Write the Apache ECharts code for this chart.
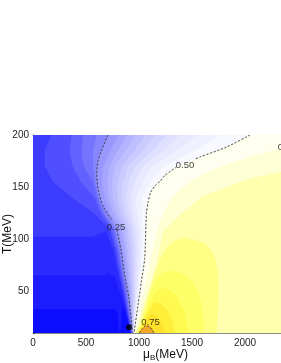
<!DOCTYPE html>
<html><head><meta charset="utf-8">
<script src="https://cdn.jsdelivr.net/npm/echarts@6/dist/echarts.min.js"></script>
<style>html,body{margin:0;padding:0;background:#fff}#c{width:281px;height:363px}</style>
</head><body><div id="c"></div>
<script>
// ---------------- DATA ----------------
const T_MIN = 10, T_MAX = 200, MU_MAX = 2500;
const xTickInterval = 500, yTickInterval = 50;

// rows of T at which the nearly-vertical contour levels are sampled
const tRows = [200, 185, 170, 155, 140, 125, 110, 90, 70, 50, 30, 10];
// mu_B values of level curves (blue side, below 0.25)
const muLev150 = [176, 112, 113, 194, 370, 580, 720, 780, 815, 855, 893, 930];
const muLev175 = [365, 349, 375, 454, 580, 640, 735, 790, 825, 862, 898, 932];
const muLev200 = [475, 459, 480, 570, 605, 660, 755, 806, 840, 877, 908, 937];
const muLev225 = [601, 569, 570, 588, 620, 675, 770, 818, 850, 885, 914, 940];
// levels between 0.25 and 0.50
const muLev275 = [808, 730, 667, 655, 676, 726, 813, 853, 878, 905, 926, 944];
const muLev300 = [887, 802, 723, 703, 716, 762, 841, 876, 896, 917, 932, 945];
const muLev325 = [967, 875, 779, 750, 755, 797, 868, 898, 914, 929, 939, 946];
const muLev350 = [1060, 956, 840, 801, 796, 833, 896, 921, 932, 941, 945, 947];
const muLev375 = [1154, 1038, 901, 851, 837, 869, 924, 944, 950, 952, 951, 948];
const muLev400 = [1264, 1131, 969, 905, 880, 906, 952, 967, 968, 964, 957, 949];
const muLev425 = [1387, 1232, 1041, 962, 924, 944, 980, 990, 986, 976, 963, 950];
const muLev450 = [1547, 1359, 1128, 1028, 973, 983, 1007, 1012, 1004, 988, 970, 951];
const muLev475 = [1764, 1525, 1236, 1105, 1028, 1025, 1035, 1035, 1022, 1000, 976, 952];

// low-T, nearly horizontal levels [mu_B, T]
const lev075 = [[0,33],[700,33],[785,33],[800,29],[810,15],[818,12],[828,15],[836,28],[848,36],[870,30],[900,20],[922,10]];
const lev100 = [[0,65.6],[600,65.6],[690,66],[705,68.5],[720,66],[774,65],[810,52],[850,42],[880,32],[905,20],[925,10]];
const lev125 = [[0,102.4],[500,102.4],[580,103],[640,106],[690,108],[760,90],[800,70],[843,52],[880,35],[905,23],[928,10]];

// dashed contours [mu_B, T]
const contour025 = [[710,200],[648,185.6],[616,176],[601,163.2],[616,147.2],[663,131.2],[745,118.4],
                    [792,108.8],[830,89.6],[865,65.6],[903,44.8],[934,16],[943,10]];
const contour050 = [[2047,200],[1827,188.5],[1575,178.9],[1520,176.5],
                    [1356,169.3],[1248,161.6],[1198,155.5],[1154,151.5],[1110,145],[1085,135],[1070,125],
                    [1065,113],[1054,81.7],[1022,59],[991,36.9],[953,10]];
const gap025 = 7, gap050 = 4; // label breaks (index where the second piece starts)

// yellow side levels
const lev525 = [[962,10],[1000,25],[1035,42],[1070,60],[1110,80],[1150,100],[1167,107],[1200,118],[1300,138],
                [1418,150],[1538,158],[1733,168],[2047,179],[2340,187],[2600,192]];
const lev550 = [[968,10],[1020,25],[1065,42],[1110,56],[1160,75],[1200,92],[1229,107],[1300,115],[1400,124],
                [1481,131],[1600,141],[1795,148.5],[2047,158],[2340,164.5],[2600,168]];
const lev600 = [[975,10],[1005,16],[1030,25],[1075,42],[1148,66],[1210,83],[1274,93],[1350,99],[1431,101],
                [1530,99],[1620,96],[1680,89],[1714,82],[1740,70],[1748,55],[1745,40],[1737,25],[1729,10]];
const lev625 = [[985,10],[1015,16],[1045,25],[1085,40],[1120,52],[1170,63],[1242,69],[1330,69],[1431,66],
                [1510,58],[1560,48],[1595,35],[1610,20],[1612,10]];
const lev650 = [[990,10],[1025,17],[1060,27],[1100,38],[1150,48],[1211,53],[1290,51],[1360,44],[1420,32],[1450,20],[1460,10]];
const lev675 = [[995,10],[1030,17],[1070,26],[1110,34],[1148,39],[1210,38],[1270,31],[1315,21],[1336,10]];
const lev700 = [[1000,10],[1040,17],[1080,24],[1116,28],[1170,26],[1215,19],[1242,10]];
const lev750 = [[1003,10],[1030,14],[1065,17],[1100,16],[1125,13],[1140,10]];

const criticalPoint = [[905, 15.5]];
const contourLabels = [
  {text: '0.25', mu: 783, T: 111.7},
  {text: '0.50', mu: 1434, T: 171.2},
  {text: '0.75', mu: 1109, T: 20},
  {text: '0.55', mu: 2395, T: 188}
];

// ---------------- STYLE ----------------
const bandColors = [
  '#0c0cff', '#1c1cff', '#2b2bff', '#3c3cff', '#4f4fff', '#6262ff', '#7474ff', '#8686ff',
  '#9898ff', '#a6a6ff', '#b3b3ff', '#bfbfff', '#cacaff', '#d5d5ff', '#dfdfff', '#e8e8ff', '#f0f0ff', '#f8f8ff',
  '#fffff0', '#ffffd6', '#ffffae', '#ffff84', '#ffff68', '#fffa50', '#ffee3a', '#ffe02a', '#f3a828'
];
const FONT = "'Liberation Sans', Arial, Helvetica, sans-serif";
const AXIS_GRAY = '#8a8a8a', TICK = '#444';

// ---------------- BUILD POLYGONS ----------------
const E = 120; // extension beyond plot edges (data units)
const fromRows = mu => tRows.map((t, i) => [mu[i], t]);
const rightOf = curve => curve.concat([[MU_MAX + E, T_MIN - 5], [MU_MAX + E, T_MAX + 5]]);
const aboveFromLeft = curve => [[-E, T_MAX + 5], [-E, curve[0][1]]].concat(curve, [[MU_MAX + E, T_MIN - 5], [MU_MAX + E, T_MAX + 5]]);
const belowRight = curve => curve.concat([[curve[curve.length - 1][0], T_MIN - 5], [curve[0][0], T_MIN - 5]]);
const blob = curve => curve.concat([[curve[curve.length - 1][0], T_MIN - 5], [curve[0][0], T_MIN - 5]]);

const polygons = [
  [[-E, T_MIN - 5], [MU_MAX + E, T_MIN - 5], [MU_MAX + E, T_MAX + 5], [-E, T_MAX + 5]],
  aboveFromLeft(lev075), aboveFromLeft(lev100), aboveFromLeft(lev125),
  rightOf(fromRows(muLev150)), rightOf(fromRows(muLev175)), rightOf(fromRows(muLev200)), rightOf(fromRows(muLev225)),
  rightOf(contour025),
  rightOf(fromRows(muLev275)), rightOf(fromRows(muLev300)), rightOf(fromRows(muLev325)), rightOf(fromRows(muLev350)),
  rightOf(fromRows(muLev375)), rightOf(fromRows(muLev400)), rightOf(fromRows(muLev425)), rightOf(fromRows(muLev450)),
  rightOf(fromRows(muLev475)),
  rightOf(contour050),
  belowRight(lev525), belowRight(lev550),
  blob(lev600), blob(lev625), blob(lev650), blob(lev675), blob(lev700), blob(lev750)
];

const dashStyle = {type: [2.2, 1.6], width: 0.9, color: '#3a3a3a'};
function dashed(points) {
  return {type: 'line', data: points, symbol: 'none', smooth: 0.25, silent: true, z: 5,
          lineStyle: dashStyle, xAxisIndex: 0, yAxisIndex: 0, clip: true, animation: false};
}
const plainNum = v => String(v);

const chart = echarts.init(document.getElementById('c'), null, {renderer: 'canvas'});
chart.setOption({
  animation: false,
  textStyle: {fontFamily: FONT},
  grid: [
    {left: 33, top: 135, width: MU_MAX * 0.106, height: (T_MAX - T_MIN) * 1.042,
     containLabel: false, outerBoundsMode: 'none'},
    {left: 33, top: 135, width: MU_MAX * 0.106, height: (T_MAX - 50) * 1.042,
     containLabel: false, outerBoundsMode: 'none'}
  ],
  xAxis: [
    {gridIndex: 0, type: 'value', position: 'bottom', min: 0, max: MU_MAX, interval: xTickInterval,
     axisLine: {show: true, onZero: false, lineStyle: {color: AXIS_GRAY, width: 1}},
     axisTick: {show: true, inside: true, length: 4, lineStyle: {color: TICK}},
     minorTick: {show: true, splitNumber: 5, length: 2, lineStyle: {color: TICK}},
     splitLine: {show: false},
     axisLabel: {margin: 5, fontSize: 10, color: '#222', fontFamily: FONT, formatter: plainNum},
     name: '{i|μ}{s|B}{i|(MeV)}', nameLocation: 'middle', nameGap: 15, nameMoveOverlap: false,
     nameTextStyle: {fontFamily: FONT, color: '#111', rich: {
       i: {fontSize: 12, fontFamily: FONT, color: '#111'},
       s: {fontSize: 8, fontFamily: FONT, color: '#111', verticalAlign: 'bottom', padding: [6, 0, 0, 0]}}}},
    {gridIndex: 0, type: 'value', position: 'top', min: 0, max: MU_MAX, interval: xTickInterval,
     axisLine: {show: true, onZero: false, lineStyle: {color: AXIS_GRAY, width: 1}},
     axisTick: {show: true, inside: true, length: 4, lineStyle: {color: TICK}},
     minorTick: {show: true, splitNumber: 5, length: 2, lineStyle: {color: TICK}},
     splitLine: {show: false}, axisLabel: {show: false}},
    {gridIndex: 1, type: 'value', min: 0, max: MU_MAX, show: false}
  ],
  yAxis: [
    {gridIndex: 0, type: 'value', min: T_MIN, max: T_MAX, interval: 10,
     axisLine: {show: true, onZero: false, lineStyle: {color: AXIS_GRAY, width: 1}},
     axisTick: {show: true, inside: true, length: 2, lineStyle: {color: TICK}},
     splitLine: {show: false},
     axisLabel: {margin: 4, fontSize: 10, color: '#222', fontFamily: FONT,
                 formatter: v => (v % yTickInterval === 0 ? String(v) : '')},
     name: 'T(MeV)', nameLocation: 'middle', nameRotate: 90, nameGap: 19, nameMoveOverlap: false,
     nameTextStyle: {fontSize: 12, color: '#111', fontFamily: FONT}},
    {gridIndex: 1, type: 'value', min: 50, max: T_MAX, interval: yTickInterval,
     axisLine: {show: false}, splitLine: {show: false}, axisLabel: {show: false},
     axisTick: {show: true, inside: true, length: 4, lineStyle: {color: TICK}}}
  ],
  series: [
    {type: 'custom', coordinateSystem: 'cartesian2d', xAxisIndex: 0, yAxisIndex: 0, clip: true, silent: true, z: 1,
     data: polygons.map((p, i) => [p[0][0], p[0][1], i]),
     renderItem: function (params, api) {
       const poly = polygons[params.dataIndex];
       const col = bandColors[params.dataIndex];
       return {type: 'polygon', shape: {points: poly.map(p => api.coord(p))},
               style: {fill: col, stroke: col, lineWidth: 0.6}};
     }},
    dashed(contour025.slice(0, gap025)),
    dashed(contour025.slice(gap025)),
    dashed(contour050.slice(0, gap050)),
    dashed(contour050.slice(gap050)),
    dashed(lev750.slice(0, lev750.length)),
    {type: 'scatter', data: criticalPoint, symbol: 'circle', symbolSize: 6, itemStyle: {color: '#000'}, z: 8, silent: true},
    {type: 'scatter', data: contourLabels.map(l => ({value: [l.mu, l.T], name: l.text})), symbolSize: 0, z: 9, silent: true,
     label: {show: true, position: 'inside', formatter: p => p.name, fontSize: 9.5, color: '#111', fontFamily: FONT}}
  ]
});
</script></body></html>
